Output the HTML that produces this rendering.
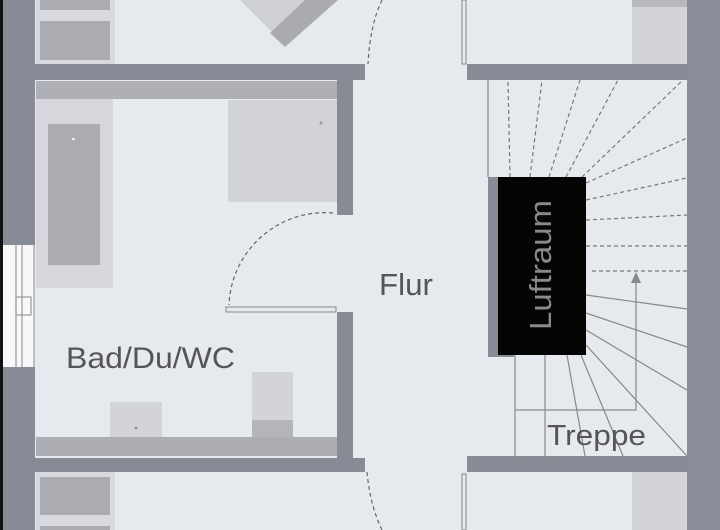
<!DOCTYPE html>
<html><head><meta charset="utf-8"><style>
html,body{margin:0;padding:0;background:#e6e9ee;}
svg{display:block;}
text{font-family:"Liberation Sans","DejaVu Sans",sans-serif;}
</style></head><body>
<svg width="720" height="530" viewBox="0 0 720 530" xmlns="http://www.w3.org/2000/svg">
<rect width="720" height="530" fill="#e6e9ee"/>
<rect x="0" y="0" width="35" height="530" fill="#878b96"/>
<rect x="0" y="0" width="3" height="530" fill="#111"/>
<rect x="687" y="0" width="33" height="530" fill="#8a8e99"/>
<rect x="3" y="245" width="32" height="122" fill="#f8f8fa"/>
<line x1="16" y1="245" x2="16" y2="367" stroke="#999" stroke-width="1.2"/>
<line x1="22" y1="245" x2="22" y2="367" stroke="#999" stroke-width="1.2"/>
<line x1="34" y1="245" x2="34" y2="367" stroke="#999" stroke-width="1.2"/>
<rect x="16" y="297" width="15" height="18" fill="none" stroke="#999" stroke-width="1.2"/>
<rect x="36" y="0" width="79" height="64" fill="#d8d9de"/>
<rect x="40" y="0" width="70" height="10" fill="#aaacb2"/>
<rect x="40" y="21" width="70" height="39" fill="#aaacb2"/>
<polygon points="240,0 272,32 305,0" fill="#cfd0d6"/>
<polygon points="305,0 338,0 285,47 270,33" fill="#a9abb1"/>
<rect x="33" y="64" width="332" height="16" fill="#878b96"/>
<rect x="467" y="64" width="220" height="16" fill="#878b96"/>
<rect x="33" y="458" width="332" height="14" fill="#878b96"/>
<rect x="467" y="456" width="220" height="16" fill="#878b96"/>
<rect x="36" y="81" width="301" height="18" fill="#aeb0b6"/>
<rect x="337" y="80" width="16" height="135" fill="#878b96"/>
<rect x="337" y="312" width="16" height="146" fill="#878b96"/>
<rect x="36" y="99" width="77" height="189" fill="#d6d6dc"/>
<rect x="48" y="124" width="52" height="141" fill="#aaacb2"/>
<rect x="72" y="138" width="3" height="2" fill="#eee"/>
<rect x="228" y="100" width="109" height="102" fill="#d2d3d9"/>
<circle cx="321" cy="123" r="1.5" fill="#999"/>
<path d="M333,213 A96,96 0 0 0 229,305" fill="none" stroke="#666" stroke-width="1.2" stroke-dasharray="4,3"/>
<rect x="226" y="307" width="110" height="5" fill="#e6e9ee" stroke="#888" stroke-width="1"/>
<rect x="36" y="437" width="301" height="19" fill="#acaeb4"/>
<rect x="110" y="402" width="52" height="35" fill="#d3d4d8"/>
<circle cx="136" cy="428" r="1.3" fill="#888"/>
<rect x="252" y="372" width="41" height="48" fill="#d3d4d8"/>
<rect x="252" y="420" width="41" height="17" fill="#b4b5bb"/>
<text x="66" y="368" font-size="30" fill="#555" textLength="169" lengthAdjust="spacingAndGlyphs">Bad/Du/WC</text>
<path d="M382,0 Q370,25 368,64" fill="none" stroke="#666" stroke-width="1.2" stroke-dasharray="4,3"/>
<path d="M367,472 Q370,505 382,530" fill="none" stroke="#666" stroke-width="1.2" stroke-dasharray="4,3"/>
<text x="379" y="295" font-size="31" fill="#555" textLength="54" lengthAdjust="spacingAndGlyphs">Flur</text>
<rect x="462" y="0" width="4" height="64" fill="#e6e9ee" stroke="#888" stroke-width="1"/>
<rect x="632" y="0" width="55" height="64" fill="#d3d4d8"/>
<rect x="632" y="0" width="55" height="7" fill="#b8b9bf"/>
<rect x="36" y="472" width="79" height="58" fill="#d8d9de"/>
<rect x="40" y="477" width="70" height="38" fill="#aaacb2"/>
<rect x="40" y="526" width="70" height="4" fill="#aaacb2"/>
<rect x="462" y="474" width="4" height="56" fill="#e6e9ee" stroke="#888" stroke-width="1"/>
<rect x="632" y="472" width="55" height="58" fill="#d3d4d8"/>
<line x1="488" y1="80" x2="488" y2="177" stroke="#888" stroke-width="1.2"/>
<g stroke="#777" stroke-width="1.2" stroke-dasharray="4,3" fill="none">
<line x1="510" y1="177" x2="508" y2="80"/>
<line x1="530" y1="177" x2="542" y2="80"/>
<line x1="549" y1="177" x2="580" y2="80"/>
<line x1="566" y1="177" x2="618" y2="80"/>
<line x1="582" y1="177" x2="683" y2="80"/>
<line x1="586" y1="183" x2="687" y2="138"/>
<line x1="586" y1="200" x2="687" y2="178"/>
<line x1="586" y1="220" x2="687" y2="215"/>
<line x1="586" y1="246" x2="687" y2="246"/>
<line x1="592" y1="271" x2="687" y2="271"/>
</g>
<g stroke="#888" stroke-width="1.2" fill="none">
<line x1="586" y1="295" x2="687" y2="309"/>
<line x1="586" y1="313" x2="687" y2="347"/>
<line x1="586" y1="330" x2="687" y2="390"/>
<line x1="586" y1="345" x2="687" y2="456"/>
<line x1="567" y1="355" x2="585" y2="456"/>
<line x1="581" y1="355" x2="623" y2="456"/>
<line x1="515" y1="355" x2="515" y2="458"/>
<line x1="545" y1="355" x2="545" y2="458"/>
<polyline points="515,410 636,410 636,280"/>
</g>
<polygon points="636,272 631,283 641,283" fill="#888"/>
<rect x="488" y="177" width="26" height="180" fill="#878b96"/>
<rect x="498" y="177" width="88" height="178" fill="#050505"/>
<text transform="translate(551,265) rotate(-90)" text-anchor="middle" font-size="31" fill="#8a8a8a" textLength="130" lengthAdjust="spacingAndGlyphs">Luftraum</text>
<text x="547" y="445" font-size="29" fill="#555" textLength="99" lengthAdjust="spacingAndGlyphs">Treppe</text>
</svg>
</body></html>
